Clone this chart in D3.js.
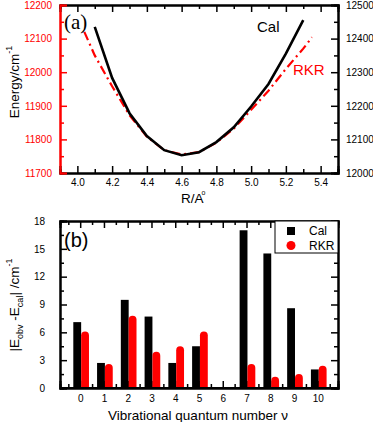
<!DOCTYPE html>
<html>
<head>
<meta charset="utf-8">
<script src="https://cdn.jsdelivr.net/npm/d3@7"></script>
<style>
  body { margin: 0; background: #fff; }
  text { font-family: "Liberation Sans", Arial, sans-serif; }
</style>
</head>
<body>
<svg id="chart" width="373" height="422"></svg>
<script>
// Panel (a): potential curves
const calR = [4.1, 4.2, 4.3, 4.4, 4.5, 4.6, 4.7, 4.8, 4.9, 5.0, 5.1, 5.2, 5.3];
const calE = [12135, 11983, 11878, 11810, 11768, 11753, 11762, 11792, 11836, 11898, 11965, 12055, 12155];
const rkrR = [4.04, 4.1, 4.2, 4.3, 4.4, 4.5, 4.6, 4.7, 4.8, 4.9, 5.0, 5.1, 5.2, 5.3, 5.35];
const rkrE = [12120, 12050, 11958, 11872, 11808, 11768, 11755, 11762, 11790, 11832, 11888, 11945, 12010, 12070, 12104];

// Panel (b): |E_obv - E_cal| per vibrational level
const levels = [0, 1, 2, 3, 4, 5, 6, 7, 8, 9, 10];
const calDiff = [7.1, 2.7, 9.5, 7.7, 2.7, 4.5, null, 17.0, 14.5, 8.6, 2.0];
const rkrDiff = [6.1, 2.6, 7.8, 3.9, 4.5, 6.1, null, 2.6, 1.2, 1.5, 2.4];

const svg = d3.select("#chart");

// -- Panel (a) -- //
const xA = d3.scaleLinear().domain([3.9, 5.5]).range([60, 338]);
const yA = d3.scaleLinear().domain([11700, 12200]).range([173, 5]);
const yA2 = d3.scaleLinear().domain([12000, 12500]).range([173, 5]);

function inTicks(g, col) {
  g.selectAll("path.domain").attr("stroke", col).attr("stroke-width", 2);
  g.selectAll(".tick line").attr("stroke", col).attr("stroke-width", 1.5);
  g.selectAll(".tick text").attr("font-size", 10);
}

// Minor ticks
const gA = svg.append("g");
gA.append("g").attr("transform", "translate(0,173)")
  .call(d3.axisBottom(xA).tickValues(d3.range(4.1, 5.5, 0.2)).tickSize(-4).tickFormat(""))
  .call(g => inTicks(g, "#000"));
gA.append("g").attr("transform", "translate(0,5)")
  .call(d3.axisTop(xA).tickValues(d3.range(4.1, 5.5, 0.2)).tickSize(-4).tickFormat(""))
  .call(g => inTicks(g, "#000"));
gA.append("g").attr("transform", "translate(60,0)")
  .call(d3.axisLeft(yA).tickValues(d3.range(11750, 12200, 100)).tickSize(-4).tickFormat(""))
  .call(g => inTicks(g, "#f00"));
gA.append("g").attr("transform", "translate(338,0)")
  .call(d3.axisRight(yA2).tickValues(d3.range(12050, 12500, 100)).tickSize(-4).tickFormat(""))
  .call(g => inTicks(g, "#000"));

// Major ticks
gA.append("g").attr("transform", "translate(0,173)")
  .call(d3.axisBottom(xA).tickValues([4.0, 4.2, 4.4, 4.6, 4.8, 5.0, 5.2, 5.4]).tickSize(-7).tickPadding(6).tickFormat(d3.format(".1f")))
  .call(g => inTicks(g, "#000"));
gA.append("g").attr("transform", "translate(0,5)")
  .call(d3.axisTop(xA).tickValues([4.0, 4.2, 4.4, 4.6, 4.8, 5.0, 5.2, 5.4]).tickSize(-7).tickFormat(""))
  .call(g => inTicks(g, "#000"));
gA.append("g").attr("transform", "translate(338,0)")
  .call(d3.axisRight(yA2).tickValues(d3.range(12000, 12501, 100)).tickSize(-7).tickPadding(8).tickFormat(d3.format("d")))
  .call(g => inTicks(g, "#000"));
gA.append("g").attr("transform", "translate(60,0)")
  .call(d3.axisLeft(yA).tickValues(d3.range(11700, 12201, 100)).tickSize(-7).tickPadding(8).tickFormat(d3.format("d")))
  .call(g => inTicks(g, "#f00"))
  .call(g => g.selectAll(".tick text").attr("fill", "#f00"));

// Curves
const lineA = d3.line().x(d => xA(d[0])).y(d => yA(d[1]));
gA.append("path")
  .datum(rkrR.map((r, i) => [r, rkrE[i]]))
  .attr("d", lineA)
  .attr("fill", "none")
  .attr("stroke", "#f00")
  .attr("stroke-width", 2.2)
  .attr("stroke-dasharray", "9,4,2,4");
gA.append("path")
  .datum(calR.map((r, i) => [r, calE[i]]))
  .attr("d", lineA)
  .attr("fill", "none")
  .attr("stroke", "#000")
  .attr("stroke-width", 2.6);

gA.append("text").attr("x", 64).attr("y", 29)
  .style("font-family", "'Liberation Serif', 'Times New Roman', serif")
  .attr("font-size", 21).text("(a)");
gA.append("text").attr("x", 257).attr("y", 32).attr("font-size", 15).text("Cal");
gA.append("text").attr("x", 293).attr("y", 75).attr("font-size", 15).attr("fill", "#f00").text("RKR");

const ylabA = gA.append("text")
  .attr("transform", "translate(19,82) rotate(-90)")
  .attr("text-anchor", "middle").attr("font-size", 13.5);
ylabA.append("tspan").text("Energy/cm");
ylabA.append("tspan").attr("dy", -7).attr("font-size", 9).text("-1");

// x label with the small ring of the Angstrom sign set above-right of the A
const xlabA = gA.append("text").attr("x", 181).attr("y", 203).attr("font-size", 13.5);
xlabA.append("tspan").text("R/A");
xlabA.append("tspan").attr("dx", -2).attr("dy", -8).attr("font-size", 7).text("o");

// -- Panel (b) -- //
const xB = d3.scaleLinear().domain([-0.85, 10.85]).range([60, 338]);
const yB = d3.scaleLinear().domain([0, 18]).range([388, 221]);
const gB = svg.append("g");

const halfTicks = d3.range(-0.5, 11, 1);
const yMinor = d3.range(1.5, 18, 3);
gB.append("g").attr("transform", "translate(0,388)")
  .call(d3.axisBottom(xB).tickValues(halfTicks).tickSize(-4).tickFormat(""))
  .call(g => inTicks(g, "#000"));
gB.append("g").attr("transform", "translate(0,221)")
  .call(d3.axisTop(xB).tickValues(halfTicks).tickSize(-4).tickFormat(""))
  .call(g => inTicks(g, "#000"));
gB.append("g").attr("transform", "translate(60,0)")
  .call(d3.axisLeft(yB).tickValues(yMinor).tickSize(-4).tickFormat(""))
  .call(g => inTicks(g, "#000"));
gB.append("g").attr("transform", "translate(338,0)")
  .call(d3.axisRight(yB).tickValues(yMinor).tickSize(-4).tickFormat(""))
  .call(g => inTicks(g, "#000"));

gB.append("g").attr("transform", "translate(0,388)")
  .call(d3.axisBottom(xB).tickValues(levels).tickSize(-7).tickPadding(7).tickFormat(d3.format("d")))
  .call(g => inTicks(g, "#000"));
gB.append("g").attr("transform", "translate(0,221)")
  .call(d3.axisTop(xB).tickValues(levels).tickSize(-7).tickFormat(""))
  .call(g => inTicks(g, "#000"));
gB.append("g").attr("transform", "translate(60,0)")
  .call(d3.axisLeft(yB).tickValues(d3.range(0, 19, 3)).tickSize(-7).tickPadding(15).tickFormat(d3.format("d")))
  .call(g => inTicks(g, "#000"));
gB.append("g").attr("transform", "translate(338,0)")
  .call(d3.axisRight(yB).tickValues(d3.range(0, 19, 3)).tickSize(-7).tickFormat(""))
  .call(g => inTicks(g, "#000"));

// Bars
const bw = 0.33;
gB.append("g").selectAll("rect")
  .data(levels.filter((v, i) => calDiff[i] !== null))
  .join("rect")
  .attr("x", v => xB(v - 0.29))
  .attr("width", xB(bw) - xB(0))
  .attr("y", v => yB(calDiff[v]))
  .attr("height", v => yB(0) - yB(calDiff[v]))
  .attr("fill", "#000");
gB.append("g").selectAll("path")
  .data(levels.filter((v, i) => rkrDiff[i] !== null))
  .join("path")
  .attr("d", v => {
    let x0 = xB(v + 0.04), x1 = xB(v + 0.04 + bw);
    let r = (x1 - x0) / 2;
    let top = yB(rkrDiff[v]), bot = yB(0);
    return `M${x0},${bot}V${top + r}A${r},${r} 0 0 1 ${x1},${top + r}V${bot}Z`;
  })
  .attr("fill", "#f00");

// Redraw the bottom axis line over the bars
gB.append("line").attr("x1", 60).attr("x2", 338).attr("y1", 388).attr("y2", 388)
  .attr("stroke", "#000").attr("stroke-width", 2);

// Legend
const leg = gB.append("g");
leg.append("rect").attr("x", 275).attr("y", 221).attr("width", 63).attr("height", 32)
  .attr("fill", "#fff").attr("stroke", "#000").attr("stroke-width", 1);
leg.append("rect").attr("x", 287).attr("y", 227).attr("width", 8).attr("height", 8).attr("fill", "#000");
leg.append("circle").attr("cx", 291).attr("cy", 245.5).attr("r", 4.5).attr("fill", "#f00");
leg.append("text").attr("x", 309).attr("y", 235).attr("font-size", 12).text("Cal");
leg.append("text").attr("x", 309).attr("y", 250).attr("font-size", 12).text("RKR");

gB.append("text").attr("x", 64).attr("y", 247).attr("font-size", 20).text("(b)");

const ylabB = gB.append("text")
  .attr("transform", "translate(19,305) rotate(-90)")
  .attr("text-anchor", "middle").attr("font-size", 13.5);
ylabB.append("tspan").text("|E");
ylabB.append("tspan").attr("dy", 4).attr("font-size", 9).text("obv");
ylabB.append("tspan").attr("dy", -4).text(" -E");
ylabB.append("tspan").attr("dy", 4).attr("font-size", 9).text("cal");
ylabB.append("tspan").attr("dy", -4).text("| /cm");
ylabB.append("tspan").attr("dy", -7).attr("font-size", 9).text("-1");

gB.append("text").attr("x", 198).attr("y", 420)
  .attr("text-anchor", "middle").attr("font-size", 13.5)
  .text("Vibrational quantum number ν");
</script>
</body>
</html>
